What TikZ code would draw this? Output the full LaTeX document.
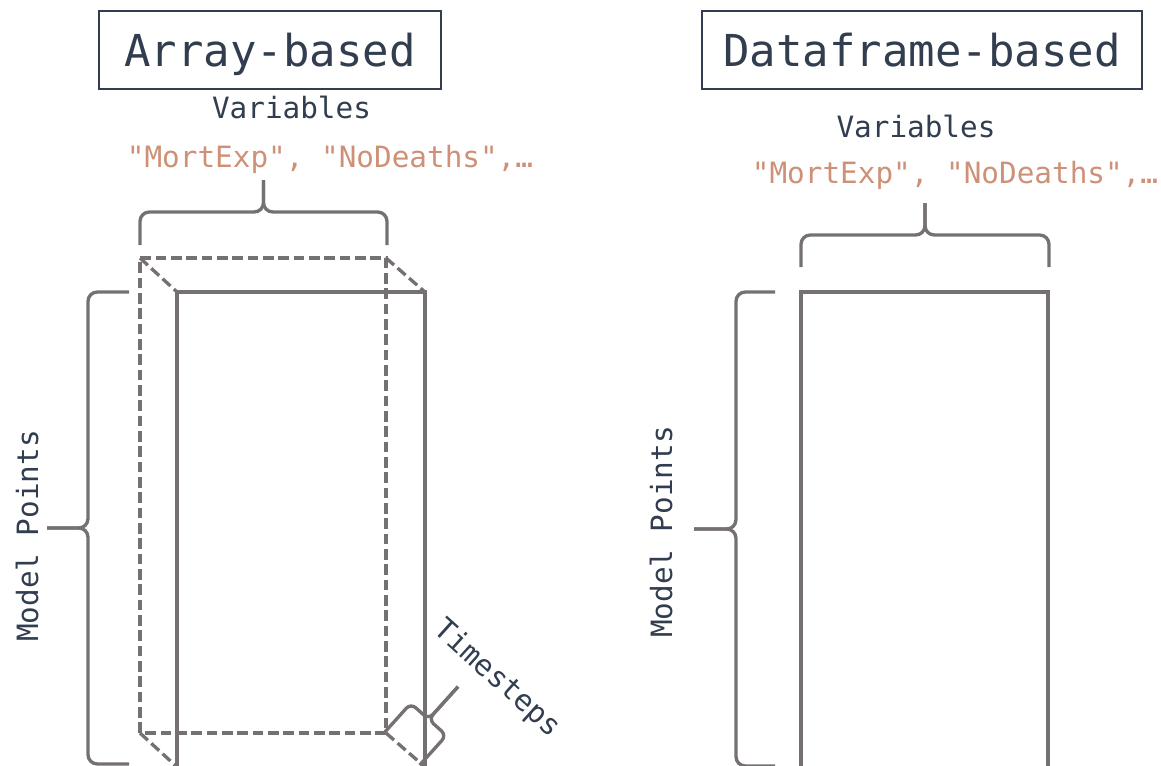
\documentclass[tikz,border=0pt]{standalone}
\usepackage{fontspec}
\setmonofont{DejaVu Sans Mono}
\definecolor{ink}{RGB}{50,62,79}
\definecolor{strcol}{RGB}{206,145,120}
\definecolor{edge}{RGB}{118,113,113}
\tikzset{
  pen/.style={draw=edge, line width=2.5pt},
  dashpen/.style={pen, dash pattern=on 8pt off 3.5pt},
  titlebox/.style={draw=ink, line width=1.4pt, text=ink,
    font=\ttfamily\fontsize{33}{33}\selectfont, inner sep=0pt,
    text height=24pt, text depth=0pt},
  axislabel/.style={text=ink, font=\ttfamily\fontsize{22}{22}\selectfont, inner sep=0pt},
  varnames/.style={text=strcol, font=\ttfamily\fontsize{22}{22}\selectfont, inner sep=0pt},
}
% curly brace: start point, rotation, width, arm height, tip height, corner radius
\newcommand\drawbrace[6]{%
  \begin{scope}[shift={#1}, rotate=#2]
    \draw[pen, rounded corners=#6] (0,0) -- (0,-#4) -- ({#3/2},-#4) -- ({#3/2},{-#4-#5});
    \draw[pen, rounded corners=#6] (#3,0) -- (#3,-#4) -- ({#3/2},-#4) -- ({#3/2},{-#4-#5});
  \end{scope}}
\begin{document}
\begin{tikzpicture}[x=0.75pt, y=-0.75pt]
  \useasboundingbox (0,0) rectangle (1161,765);
  \clip (0,0) rectangle (1161,765);

  % ---------- array-based layout ----------
  \node[titlebox, minimum width=256.5pt, minimum height=58.5pt] (arraytitle) at (270,50) {Array-based};
  \node[axislabel, anchor=base] (arrayvars) at (291.5,118) {Variables};
  \node[varnames, anchor=base] (arraynames) at (330,167) {"MortExp", "NoDeaths",…};

  % back face (dashed) and depth edges
  \coordinate (b1) at (140,258);
  \coordinate (b2) at (386,258);
  \coordinate (b3) at (386,733);
  \coordinate (b4) at (140,733);
  \coordinate (f1) at (177,292);
  \coordinate (f2) at (425,292);
  \coordinate (f3) at (425,767);
  \coordinate (f4) at (177,767);
  \draw[dashpen] (b4) -- (b1) -- (b2) -- (b3) -- cycle;
  \draw[dashpen] (b1) -- (f1);
  \draw[dashpen] (b2) -- (f2);
  \draw[dashpen] (b3) -- (f3);
  \draw[dashpen] (b4) -- (f4);
  % front face
  \draw[pen] (177,800) -- (f1) -- (f2) -- (425,800);

  \drawbrace{(140,245)}{0}{247}{33}{32}{7pt}
  \drawbrace{(129,764)}{90}{472}{41}{41}{7pt}
  \node[axislabel, anchor=base, rotate=90] (arraypoints) at (38,536) {Model Points};
  \drawbrace{(384,733)}{-42}{48}{40}{44}{5pt}
  \node[axislabel, rotate=-42] (arraytime) at (497,679) {Timesteps};

  % ---------- dataframe-based layout ----------
  \node[titlebox, minimum width=330pt, minimum height=58.5pt] (frametitle) at (922,50) {Dataframe-based};
  \node[axislabel, anchor=base] (framevars) at (916,137) {Variables};
  \node[varnames, anchor=base] (framenames) at (955,183) {"MortExp", "NoDeaths",…};

  \draw[pen] (801,800) -- (801,292) -- (1048,292) -- (1048,800);
  \drawbrace{(801,267)}{0}{248}{32}{32}{7pt}
  \drawbrace{(775,766)}{90}{474}{39}{42}{7pt}
  \node[axislabel, anchor=base, rotate=90] (framepoints) at (672,532) {Model Points};
\end{tikzpicture}
\end{document}
